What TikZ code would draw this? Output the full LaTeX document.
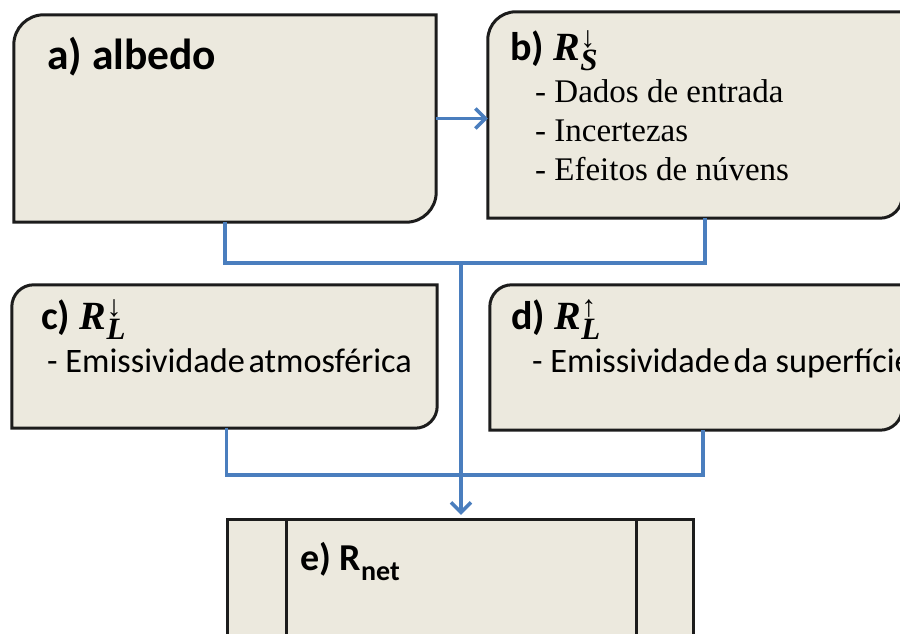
\documentclass[tikz,border=0pt]{standalone}
\usepackage{fontspec}
\setmainfont{Liberation Serif}
\newfontfamily\calfont{Carlito}
\usetikzlibrary{arrows.meta}
\definecolor{boxfill}{RGB}{236,233,222}
\definecolor{linkblue}{RGB}{74,126,190}
\definecolor{boxline}{RGB}{28,28,28}
\newcommand\Rsym[2]{\textbf{\textit{R}}\kern0.5pt\rlap{\raisebox{13pt}{\fontsize{30}{30}\selectfont #2}}\raisebox{-10pt}{\fontsize{31}{31}\selectfont\textbf{\textit{#1}}}}
\tikzset{
  x=1pt, y=1pt,
  area/.style={inner sep=0pt, draw=none},
  boxshape/.style={draw=boxline, line width=3pt, fill=boxfill},
  link/.style={draw=linkblue, line width=3.5pt},
  tip/.style={-{Straight Barb[length=10pt,width=20pt]}},
  headtxt/.style={anchor=base west, inner sep=0pt, font=\calfont\bfseries\fontsize{40}{46}\selectfont},
  serifline/.style={anchor=base west, inner sep=0pt, font=\fontsize{33}{40}\selectfont},
  sansline/.style={anchor=base west, inner sep=0pt, font=\calfont\fontsize{34.3}{40}\selectfont},
}
\begin{document}
\begin{tikzpicture}
\useasboundingbox (0,0) rectangle (900,634);
% areas
\node[area, minimum width=422pt, minimum height=207pt] (a) at (225,515.5) {};
\node[area, minimum width=414pt, minimum height=206pt] (b) at (695,519) {};
\node[area, minimum width=425pt, minimum height=143pt] (c) at (224.5,277.5) {};
\node[area, minimum width=412pt, minimum height=145pt] (d) at (696,276.5) {};
\node[area, minimum width=465pt, minimum height=124pt] (e) at (460.5,52) {};
% outlines
\draw[boxshape] (a.south west) -- ([yshift=-30pt]a.north west) arc[start angle=180,end angle=90,radius=30pt]
  -- (a.north east) -- ([yshift=30pt]a.south east) arc[start angle=0,end angle=-90,radius=30pt] -- cycle;
\draw[boxshape] (b.south west) -- ([yshift=-28pt]b.north west) arc[start angle=180,end angle=90,radius=28pt]
  -- (b.north east) -- ([yshift=22pt]b.south east) arc[start angle=0,end angle=-90,radius=22pt] -- cycle;
\draw[boxshape] (c.south west) -- ([yshift=-22pt]c.north west) arc[start angle=180,end angle=90,radius=22pt]
  -- (c.north east) -- ([yshift=22pt]c.south east) arc[start angle=0,end angle=-90,radius=22pt] -- cycle;
\draw[boxshape] (d.south west) -- ([yshift=-22pt]d.north west) arc[start angle=180,end angle=90,radius=22pt]
  -- (d.north east) -- ([yshift=22pt]d.south east) arc[start angle=0,end angle=-90,radius=22pt] -- cycle;
\draw[boxshape] (e.south west) rectangle (e.north east);
\draw[draw=boxline, line width=3pt] ([xshift=59pt]e.north west) -- ([xshift=59pt]e.south west);
\draw[draw=boxline, line width=3pt] ([xshift=-57pt]e.north east) -- ([xshift=-57pt]e.south east);
% texts
\node[headtxt, font=\calfont\bfseries\fontsize{43.5}{50}\selectfont] (ta) at (47,564) {a) albedo};
\node[headtxt] (tb) at (510,573) {b) {\normalfont\fontsize{40}{46}\selectfont\Rsym{S}{↓}}};
\node[serifline] (tb1) at (535,531) {- Dados de entrada};
\node[serifline] (tb2) at (535,492) {- Incertezas};
\node[serifline] (tb3) at (535,453) {- Efeitos de núvens};
\node[headtxt] (tc) at (41,304) {c) {\normalfont\fontsize{40}{46}\selectfont\Rsym{L}{↓}}};
\node[sansline] (tc1) at (47,261) {- Emissividade\hspace{3.5pt}atmosférica};
\node[headtxt] (td) at (511,304) {d) {\normalfont\fontsize{40}{46}\selectfont\Rsym{L}{↑}}};
\node[sansline] (td1) at (532,261) {- Emissividade\hspace{3.5pt}da superfície};
\node[headtxt, font=\calfont\bfseries\fontsize{38}{44}\selectfont] (te) at (300,63) {e) R\raisebox{-10pt}{\fontsize{28}{28}\selectfont net}};
% connectors
\coordinate (j1) at (461,371);
\coordinate (j2) at (461,159);
\draw[link, tip] (a.east) -- (a.east -| b.west);
\draw[link] (a.south) |- (j1) -| ([xshift=10pt]b.south);
\draw[link] ([xshift=2pt]c.south) |- (j2) -| ([xshift=7pt]d.south);
\draw[link, tip] (j1) -- ([yshift=5pt]j1 |- e.north);
\end{tikzpicture}
\end{document}
